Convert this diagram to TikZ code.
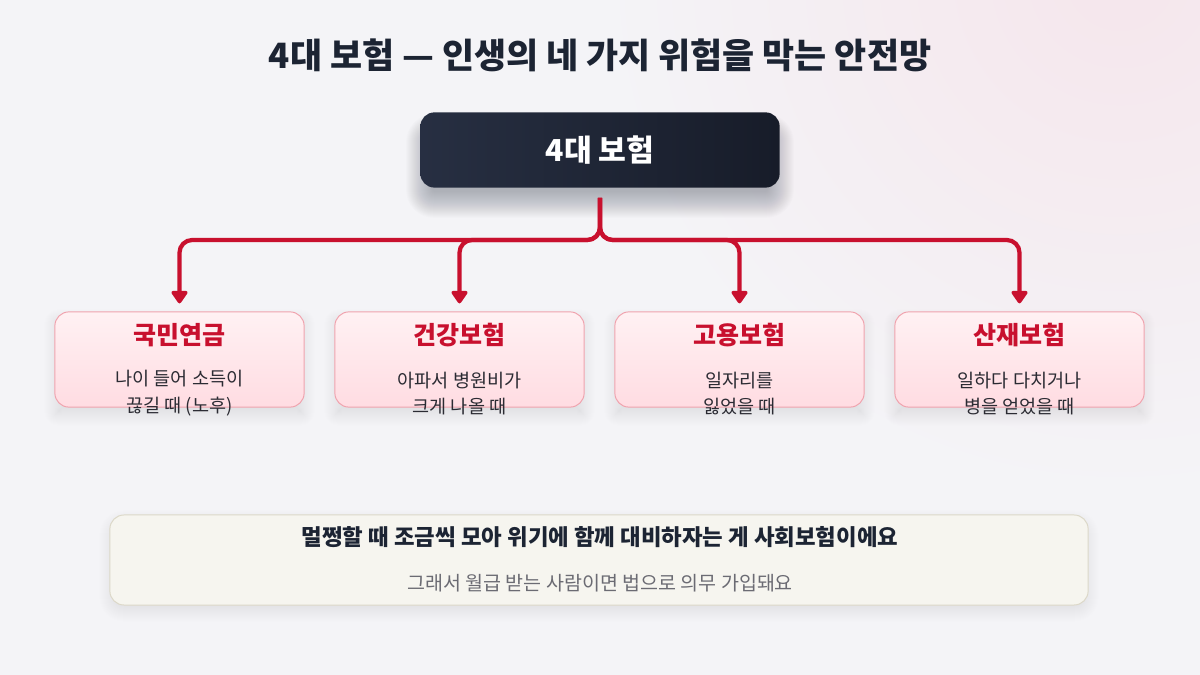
\documentclass[tikz,border=0pt]{standalone}
\usepackage{fontspec}
\setmainfont{Noto Sans CJK KR}
\usepackage{tikz}
\usetikzlibrary{arrows.meta, positioning, calc}

\definecolor{bgcol}{HTML}{F4F4F7}
\definecolor{bgpink}{HTML}{F5E6EC}
\definecolor{ink}{HTML}{1C2433}
\definecolor{navytop}{HTML}{272F42}
\definecolor{navybot}{HTML}{171C29}
\definecolor{brand}{HTML}{C8102E}
\definecolor{cardtop}{HTML}{FFF1F3}
\definecolor{cardbot}{HTML}{FFDCE2}
\definecolor{cardline}{HTML}{F0A3AE}
\definecolor{bodyink}{HTML}{2B2B33}
\definecolor{notefill}{HTML}{F6F5EF}
\definecolor{noteline}{HTML}{DCD8C8}
\definecolor{subink}{HTML}{6B6B73}
\pgfdeclarelayer{background}
\pgfsetlayers{background,main}

\begin{document}
\begin{tikzpicture}[x=0.025cm, y=0.025cm,
    card/.style={draw=cardline, line width=0.7pt, rounded corners=10pt,
        top color=cardtop, bottom color=cardbot,
        minimum width=6.23cm, minimum height=2.38cm},
    branch/.style={draw=brand, line width=3pt, rounded corners=9pt,
        -{Triangle[length=10pt, width=13pt, round]}}]

    % Title
    \node[text=ink, font=\bfseries\fontsize{24.8}{29}\selectfont] (title) at (600,620)
        {4대 보험 — 인생의 네 가지 위험을 막는 안전망};

    % Root box
    \node[rounded corners=10pt, left color=navytop, right color=navybot,
        minimum width=8.98cm, minimum height=1.88cm, text=white,
        font=\bfseries\fontsize{21.5}{25}\selectfont]
        (root) at (600,525) {4대 보험};

    % Cards
    \foreach \i/\x/\head/\body in {
        1/179.5/국민연금/{나이 들어 소득이\\끊길 때 (노후)},
        2/459.5/건강보험/{아파서 병원비가\\크게 나올 때},
        3/739.5/고용보험/{일자리를\\잃었을 때},
        4/1019.5/산재보험/{일하다 다치거나\\병을 얻었을 때}} {
        \node[card] (card\i) at (\x,315.5) {};
        \node[text=brand, font=\bfseries\fontsize{17.8}{21}\selectfont] (head\i)
            at ($(card\i.center)+(0,24.5)$) {\head};
        \node[text=bodyink, align=center, font=\fontsize{13.2}{19.1}\selectfont] (body\i)
            at ($(card\i.center)+(0,-34)$) {\body};
    }

    % Connectors
    \coordinate (stem) at (600,477);
    \coordinate (bar) at (600,435);
    \foreach \i in {1,...,4}
        \draw[branch] (stem) -- (bar) -- (card\i.north |- bar) -- ($(card\i.north)+(0,8)$);

    % Note box
    \node[draw=noteline, line width=0.7pt, fill=notefill, rounded corners=10pt,
        minimum width=24.45cm, minimum height=2.25cm]
        (note) at (599,115) {};
    \node[text=ink, font=\bfseries\fontsize{15.9}{19}\selectfont] (lead) at (600,138)
        {멀쩡할 때 조금씩 모아 위기에 함께 대비하자는 게 사회보험이에요};
    \node[text=subink, font=\fontsize{13.9}{17}\selectfont] (sub) at (600,92)
        {그래서 월급 받는 사람이면 법으로 의무 가입돼요};

    % Background and soft shadows
    \begin{pgfonlayer}{background}
        \useasboundingbox (0,0) rectangle (1200,675);
        \fill[bgcol] (0,0) rectangle (1200,675);
        \shade[inner color=bgpink, outer color=bgcol] (1120,700) circle (520);
        \foreach \k [evaluate=\k as \r using 10+0.7*\k] in {-12,...,14}
            \fill[ink, opacity=0.011, rounded corners=\r pt]
                ($(root.south west)+(-\k,-\k-16)$) rectangle ($(root.north east)+(\k,\k-16)$);
        \foreach \n in {card1,card2,card3,card4}
            \foreach \k [evaluate=\k as \r using 10+0.7*\k] in {-8,...,10}
                \fill[brand, opacity=0.005, rounded corners=\r pt]
                    ($(\n.south west)+(-\k,-\k-8)$) rectangle ($(\n.north east)+(\k,\k-8)$);
        \foreach \k [evaluate=\k as \r using 10+0.7*\k] in {-8,...,10}
            \fill[ink, opacity=0.004, rounded corners=\r pt]
                ($(note.south west)+(-\k,-\k-6)$) rectangle ($(note.north east)+(\k,\k-6)$);
    \end{pgfonlayer}

\end{tikzpicture}
\end{document}
